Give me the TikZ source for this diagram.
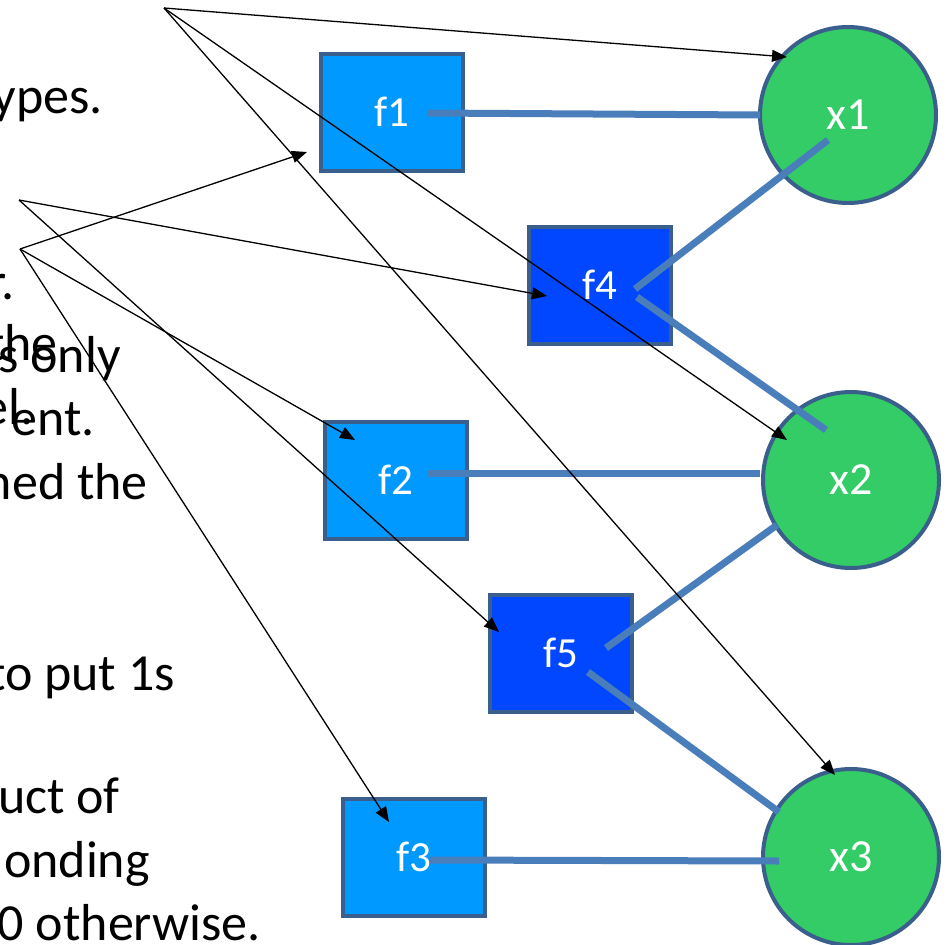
\documentclass[tikz,border=0pt]{standalone}
\usepackage{fontspec}
\setmainfont{Carlito}
\usetikzlibrary{arrows.meta, calc}

\definecolor{lightbox}{RGB}{0,153,255}
\definecolor{darkbox}{RGB}{0,71,255}
\definecolor{boxline}{RGB}{58,95,140}
\definecolor{varfill}{RGB}{51,204,102}
\definecolor{edgeblue}{RGB}{74,126,187}

\begin{document}
\begin{tikzpicture}[x=1pt, y=-1pt]
    % Node Styles
    \tikzstyle{factor} = [rectangle, draw=boxline, line width=4pt, fill=lightbox, text=white, minimum width=142pt, minimum height=117pt, inner sep=0pt, font=\fontsize{43}{50}\selectfont]
    \tikzstyle{factordark} = [factor, fill=darkbox]
    \tikzstyle{varnode} = [circle, draw=boxline, line width=4pt, fill=varfill, text=white, minimum size=176pt, inner sep=0pt, font=\fontsize{46}{54}\selectfont]
    \tikzstyle{edge} = [draw=edgeblue, line width=7pt]
    \tikzstyle{pointer} = [draw, -{Triangle[length=15pt, width=12pt]}, line width=1.3pt]
    \tikzstyle{slide} = [anchor=base east, inner sep=0pt, font=\fontsize{52}{62}\selectfont]

    \useasboundingbox (0,0) rectangle (948,945);

    % --- LEFT: SLIDE TEXT (cut off) ---
    \node [slide] (t1) at (103,113) {ypes.};
    \node [slide] (t2) at (15,299) {r.};
    \node [slide] (t3) at (58,360) {the};
    \node [slide] (t4) at (34,424) {el.};
    \node [slide] (t5) at (121,372) {s only};
    \node [slide] (t6) at (95,435) {ent.};
    \node [slide] (t7) at (148,499) {ned the};
    \node [slide] (t8) at (175,690) {to put 1s};
    \node [slide] (t9) at (120,813) {uct of};
    \node [slide] (t10) at (150,877) {onding};
    \node [slide] (t11) at (261,940) {0 otherwise.};

    % --- FACTORS ---
    \node [factor] (f1) at (392,112) {f1};
    \node [factordark] (f4) at (600,285) {f4};
    \node [factor] (f2) at (396,480) {f2};
    \node [factordark] (f5) at (561,653) {f5};
    \node [factor] (f3) at (414,857) {f3};

    % --- VARIABLES ---
    \node [varnode] (x1) at (848,115) {x1};
    \node [varnode] (x2) at (851,480) {x2};
    \node [varnode] (x3) at (851,857) {x3};

    % --- EDGES ---
    \path [edge] ($(f1)+(35,1)$) -- ($(x1)+(-88,0)$);
    \path [edge] ($(f4)+(35,4)$) -- ($(x1)+(-20,25)$);
    \path [edge] ($(f4)+(37,12)$) -- ($(x2)+(-25,-50)$);
    \path [edge] ($(f2)+(31,-7)$) -- ($(x2)+(-91,-7)$);
    \path [edge] ($(f5)+(45,-5)$) -- ($(x2)+(-74,45)$);
    \path [edge] ($(f5)+(27,19)$) -- ($(x3)+(-72,-45)$);
    \path [edge] ($(f3)+(16,3)$) -- ($(x3)+(-72,4)$);

    % --- POINTERS ---
    \coordinate (p1) at (164,8);
    \coordinate (p2) at (19,200);
    \coordinate (p3) at (20,249);

    \path [pointer] (p1) -- ($(x1)+(-61,-58)$);
    \path [pointer] (p1) -- ($(x2)+(-64,-40)$);
    \path [pointer] (p1) -- ($(x3)+(-16,-82)$);

    \path [pointer] (p2) -- ($(f4)+(-53,11)$);
    \path [pointer] (p2) -- ($(f5)+(-62,-21)$);

    \path [pointer] (p3) -- ($(f1)+(-85,40)$);
    \path [pointer] (p3) -- ($(f2)+(-41,-40)$);
    \path [pointer] (p3) -- ($(f3)+(-25,-35)$);

\end{tikzpicture}
\end{document}
